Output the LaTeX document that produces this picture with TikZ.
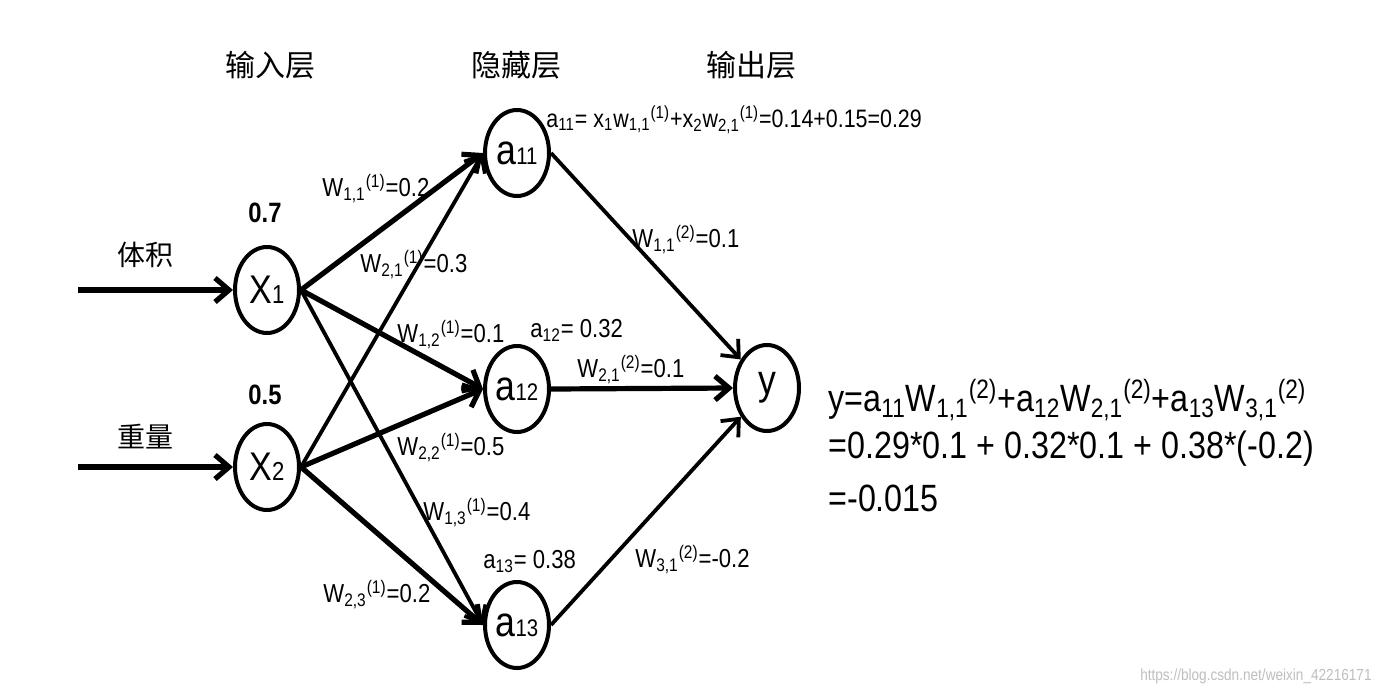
\documentclass[tikz,border=0pt]{standalone}
\usepackage{fontspec}
\setmainfont{Liberation Sans}[FakeStretch=0.85]
\newfontfamily\cjk{Noto Sans CJK SC}
\usetikzlibrary{shapes.geometric,arrows.meta}
\newcommand\fs[1]{\fontsize{#1}{#1}\selectfont}
\tikzset{
  neuron/.style={draw, ellipse, line width=2pt, minimum width=32pt, minimum height=43pt, inner sep=0pt},
  tip/.style={-{Straight Barb[length=7pt,width=12pt]}},
  heavy/.style={tip, line width=2.6pt},
  light/.style={tip, line width=1.9pt},
  wlab/.style={anchor=base west, inner sep=0pt, font=\fs{13}},
  alab/.style={anchor=base west, inner sep=0pt, font=\fs{12.6}},
  layer/.style={inner sep=0pt, font=\cjk\fs{15}},
  feat/.style={inner sep=0pt, font=\cjk\fs{14}},
  inval/.style={anchor=base, inner sep=0pt, font=\bfseries\fs{14}},
  formula/.style={anchor=base west, inner sep=0pt, font=\fs{19}},
}
\begin{document}
\begin{tikzpicture}[x=0.5pt,y=-0.5pt]
\useasboundingbox (0,0) rectangle (1379,691);
\fill[white] (0,0) rectangle (1379,691);

% layer titles
\node[layer] (t1) at (270,65) {输入层};
\node[layer] (t2) at (516,65) {隐藏层};
\node[layer] (t3) at (751,65) {输出层};

% features
\node[feat] (f1) at (145,255) {体积};
\node[feat] (f2) at (145,437) {重量};
\node[inval] (v1) at (265,222) {0.7};
\node[inval] (v2) at (265,404) {0.5};

% neurons
\node[neuron] (x1) at (267,290) {\fs{20}X\fs{13}1};
\node[neuron] (x2) at (267,467) {\fs{20}X\fs{13}2};
\node[neuron] (a11) at (517,153) {\fs{21}a\fs{12}11};
\node[neuron] (a12) at (517,389) {\fs{21}a\fs{12}12};
\node[neuron] (a13) at (517,625) {\fs{21}a\fs{12}13};
\node[neuron] (y) at (767,388) {\fs{21}y};

% inputs
\coordinate (i1) at (78,290);
\coordinate (i2) at (78,467);
\draw[heavy] (i1) -- (x1.west);
\draw[heavy] (i2) -- (x2.west);

% input -> hidden
\draw[heavy] (x1.east) -- (a11.west);
\draw[heavy] (x1.east) -- (a12.west);
\draw[light] (x1.east) -- (a13.west);
\draw[light] (x2.east) -- (a11.west);
\draw[heavy] (x2.east) -- (a12.west);
\draw[heavy] (x2.east) -- (a13.west);

% hidden -> output
\draw[light] (a11.east) -- (y);
\draw[heavy] (a12.east) -- (y.west);
\draw[light] (a13.east) -- (y);

% weight labels
\node[wlab] (w11) at (322,196) {W\textsubscript{1,1}\textsuperscript{(1)}=0.2};
\node[wlab] (w21) at (360,272) {W\textsubscript{2,1}\textsuperscript{(1)}=0.3};
\node[wlab] (w12) at (397,342) {W\textsubscript{1,2}\textsuperscript{(1)}=0.1};
\node[wlab] (w22) at (397,455) {W\textsubscript{2,2}\textsuperscript{(1)}=0.5};
\node[wlab] (w13) at (423,520) {W\textsubscript{1,3}\textsuperscript{(1)}=0.4};
\node[wlab] (w23) at (323,602) {W\textsubscript{2,3}\textsuperscript{(1)}=0.2};
\node[wlab] (u11) at (632,247) {W\textsubscript{1,1}\textsuperscript{(2)}=0.1};
\node[wlab] (u21) at (577,377) {W\textsubscript{2,1}\textsuperscript{(2)}=0.1};
\node[wlab] (u31) at (635,567) {W\textsubscript{3,1}\textsuperscript{(2)}=-0.2};

% activations
\node[alab] (s11) at (546,127) {a\textsubscript{11}= x\textsubscript{1}w\textsubscript{1,1}\textsuperscript{(1)}+x\textsubscript{2}w\textsubscript{2,1}\textsuperscript{(1)}=0.14+0.15=0.29};
\node[wlab] (s12) at (530,337) {a\textsubscript{12}= 0.32};
\node[wlab] (s13) at (483,568) {a\textsubscript{13}= 0.38};

% output formula
\node[formula] (r1) at (828,411) {y=a\textsubscript{11}W\textsubscript{1,1}\textsuperscript{(2)}+a\textsubscript{12}W\textsubscript{2,1}\textsuperscript{(2)}+a\textsubscript{13}W\textsubscript{3,1}\textsuperscript{(2)}};
\node[formula] (r2) at (828,458) {=0.29*0.1 + 0.32*0.1 + 0.38*(-0.2)};
\node[formula] (r3) at (828,511) {=-0.015};

% watermark
\node[anchor=base east, inner sep=0pt, text=black!25, font=\fs{8}] (wm) at (1372,680) {https://blog.csdn.net/weixin\_42216171};
\end{tikzpicture}
\end{document}
